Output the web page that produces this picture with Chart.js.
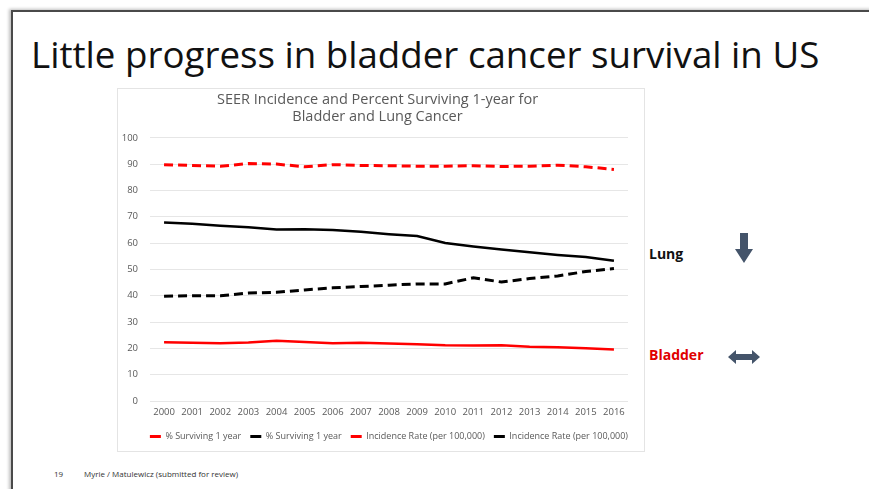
<!DOCTYPE html>
<html>
<head>
<meta charset="utf-8">
<script src="https://cdn.jsdelivr.net/npm/chart.js@4/dist/chart.umd.min.js"></script>
<style>
  body { margin: 0; width: 869px; height: 489px; background: #fff; overflow: hidden; font-family: "Open Sans", "Noto Sans", sans-serif; }
  .slide { position: absolute; left: 11px; top: 10px; width: 870px; height: 490px; border-left: 2px solid #4a4a4a; border-top: 2px solid #4a4a4a; box-shadow: -2px -1px 3px rgba(0,0,0,0.25); }
  .heading { position: absolute; left: 31px; top: 29px; font-size: 36.7px; color: #111; white-space: nowrap; }
  .chartBox { position: absolute; left: 117px; top: 88px; width: 528px; height: 364px; border: 1px solid #e4e4e4; box-sizing: border-box; }
  .side { position: absolute; font-weight: bold; font-size: 14px; }
  .foot { position: absolute; top: 468px; font-size: 8px; color: #333; }
</style>
</head>
<body>
<div class="slide"></div>
<div class="heading">Little progress in bladder cancer survival in US</div>
<div class="chartBox"><canvas id="seerChart"></canvas></div>
<div class="side" style="left:649px; top:244px; color:#111;">Lung</div>
<div class="side" style="left:649px; top:345px; color:#e00000;">Bladder</div>
<svg style="position:absolute; left:720px; top:225px;" width="60" height="150">
  <polygon points="20,8 28,8 28,24 33,24 24,38 15,24 20,24" fill="#44546a"/>
  <polygon points="8,132 16,125 16,129 32,129 32,125 40,132 32,139 32,135 16,135 16,139" fill="#44546a"/>
</svg>
<div class="foot" style="left:54px;">19</div>
<div class="foot" style="left:84px;">Myrie / Matulewicz (submitted for review)</div>

<script>
// 年份
const years = ['2000', '2001', '2002', '2003', '2004', '2005', '2006', '2007', '2008',
  '2009', '2010', '2011', '2012', '2013', '2014', '2015', '2016'];

// 膀胱癌 1年生存率
const bladderSurvival = [89.8, 89.5, 89.2, 90.2, 90.0, 89.0, 89.8, 89.5, 89.4,
  89.2, 89.2, 89.4, 89.1, 89.2, 89.6, 89.0, 88.0];
// 肺癌 1年生存率
const lungSurvival = [39.8, 40.0, 40.0, 41.0, 41.3, 42.2, 43.0, 43.5, 44.0,
  44.5, 44.5, 46.8, 45.2, 46.5, 47.5, 49.2, 50.3];
// 膀胱癌 发病率
const bladderIncidence = [22.3, 22.1, 21.9, 22.2, 22.9, 22.4, 21.9, 22.1, 21.8,
  21.6, 21.2, 21.1, 21.2, 20.6, 20.4, 20.0, 19.6];
// 肺癌 发病率
const lungIncidence = [67.8, 67.3, 66.6, 66.0, 65.2, 65.3, 65.0, 64.3, 63.4,
  62.7, 60.0, 58.7, 57.6, 56.5, 55.5, 54.7, 53.3];

const yTicks = [0, 10, 20, 30, 40, 50, 60, 70, 80, 90, 100];

const fontFamily = '"Open Sans", "Noto Sans", sans-serif';
const textGray = '#595959';

function lineSet(label, data, color, dashed) {
  return {
    label: label,
    data: data,
    borderColor: color,
    backgroundColor: color,
    borderWidth: dashed ? 3 : 2.5,
    borderDash: dashed ? [9, 5] : [],
    pointRadius: 0,
    tension: 0,
    fill: false
  };
}

const ctx = document.getElementById('seerChart').getContext('2d');
new Chart(ctx, {
  type: 'line',
  data: {
    labels: years,
    datasets: [
      lineSet('% Surviving 1 year', bladderSurvival, '#ff0000', true),
      lineSet('% Surviving 1 year', lungSurvival, '#000000', true),
      lineSet('Incidence Rate (per 100,000)', bladderIncidence, '#ff0000', false),
      lineSet('Incidence Rate (per 100,000)', lungIncidence, '#000000', false)
    ]
  },
  options: {
    responsive: true,
    maintainAspectRatio: false,
    animation: false,
    layout: { padding: { left: 0, right: 7, top: 2, bottom: 0 } },
    plugins: {
      title: {
        display: true,
        text: ['SEER Incidence and Percent Surviving 1-year for', 'Bladder and Lung Cancer'],
        color: textGray,
        font: { family: fontFamily, size: 14.5, weight: 'normal', lineHeight: 1.2 },
        padding: { top: 0, bottom: 12 }
      },
      legend: {
        position: 'bottom',
        align: 'end',
        labels: {
          color: textGray,
          font: { family: fontFamily, size: 9 },
          boxWidth: 11,
          boxHeight: 3,
          padding: 9,
          generateLabels: function(chart) {
            return chart.data.datasets.map(function(ds, i) {
              return {
                text: ds.label,
                fillStyle: ds.borderColor,
                strokeStyle: ds.borderColor,
                lineWidth: 0,
                datasetIndex: i,
                hidden: false,
                fontColor: textGray
              };
            });
          }
        }
      },
      tooltip: { enabled: false }
    },
    scales: {
      x: {
        offset: true,
        grid: { display: false, drawTicks: false },
        border: { display: false },
        ticks: { color: textGray, font: { family: fontFamily, size: 9.5 }, maxRotation: 0, autoSkip: false, padding: 6 },
        afterFit: function(axis) { axis.height = 22; }
      },
      y: {
        min: 0,
        max: 100,
        afterBuildTicks: function(axis) {
          axis.ticks = yTicks.map(function(v) { return { value: v }; });
        },
        grid: { color: '#e6e6e6', drawTicks: false },
        border: { display: false },
        ticks: { color: textGray, font: { family: fontFamily, size: 9.5 }, padding: 12 },
        afterFit: function(axis) { axis.width = 32; }
      },
      // 右侧留白
      yRight: {
        position: 'right',
        display: true,
        grid: { display: false, drawTicks: false },
        border: { display: false },
        ticks: { display: false },
        afterFit: function(axis) { axis.width = 9; }
      }
    }
  }
});
</script>
</body>
</html>
